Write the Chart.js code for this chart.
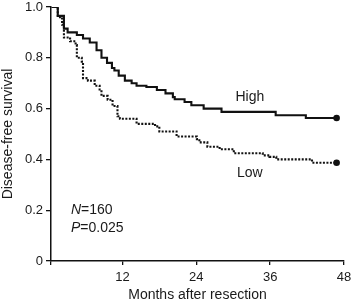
<!DOCTYPE html>
<html>
<head>
<meta charset="utf-8">
<script src="https://cdn.jsdelivr.net/npm/chart.js@4.4.1/dist/chart.umd.min.js"></script>
<style>
html,body{margin:0;padding:0;background:#fff;}
#wrap{width:353px;height:304px;}
</style>
</head>
<body>
<div id="wrap"><canvas id="c" width="353" height="304"></canvas></div>
<script>
// Months after resection and survival after each step
const highMonths = [0.5, 1.5, 2.5, 3.1, 4.6, 5.6, 6.7, 7.8, 8.6, 9.5, 10.3, 10.7, 11.4, 12.4, 13.5, 14.3, 15.9, 17.6, 19.0, 20.2, 20.5, 22.1, 23.2, 25.2, 28.1, 36.9, 41.8, 46.8];
const highSurvival = [1.0, 0.965, 0.915, 0.90, 0.89, 0.876, 0.86, 0.83, 0.80, 0.78, 0.76, 0.75, 0.73, 0.71, 0.70, 0.69, 0.685, 0.673, 0.66, 0.645, 0.637, 0.626, 0.613, 0.60, 0.587, 0.574, 0.563, 0.563];
const lowMonths = [0.5, 1.5, 2.2, 2.5, 3.5, 4.4, 4.6, 5.4, 5.6, 6.4, 7.5, 8.3, 8.6, 9.6, 10.4, 11.2, 11.6, 14.3, 17.3, 18.0, 20.8, 24.1, 24.5, 25.8, 27.8, 30.1, 34.8, 35.9, 37.0, 42.8, 46.8];
const lowSurvival = [1.0, 0.96, 0.93, 0.88, 0.865, 0.85, 0.80, 0.785, 0.72, 0.71, 0.69, 0.675, 0.65, 0.635, 0.61, 0.57, 0.56, 0.54, 0.53, 0.51, 0.49, 0.48, 0.467, 0.45, 0.44, 0.424, 0.416, 0.41, 0.40, 0.387, 0.387];
const xTicks = [12, 24, 36, 48];
const yTicks = [0, 0.2, 0.4, 0.6, 0.8, 1.0];

const toPts = (xs, ys) => xs.map((x, i) => ({x: x, y: ys[i]}));
const lastOnly = (n, r) => (ctx) => ctx.dataIndex === n - 1 ? r : 0;

const FONT = "'Liberation Sans', Arial, Helvetica, sans-serif";
const INK = '#1a1a1a';

const textPlugin = {
  id: 'texts',
  afterDatasetsDraw(chart) {
    const {ctx, scales: {x, y}} = chart;
    ctx.save();
    ctx.fillStyle = INK;
    ctx.textBaseline = 'middle';
    ctx.font = '14px ' + FONT;
    ctx.textAlign = 'center';
    ctx.fillText('High', x.getPixelForValue(32.7), y.getPixelForValue(0.646));
    ctx.fillText('Low', x.getPixelForValue(32.7), y.getPixelForValue(0.346));
    ctx.textAlign = 'left';
    const drawMixed = (it, rest, mx, my) => {
      let px = x.getPixelForValue(mx), py = y.getPixelForValue(my);
      ctx.font = 'italic 14px ' + FONT;
      ctx.fillText(it, px, py);
      px += ctx.measureText(it).width;
      ctx.font = '14px ' + FONT;
      ctx.fillText(rest, px, py);
    };
    drawMixed('N', '=160', 3.65, 0.20);
    drawMixed('P', '=0.025', 3.65, 0.13);
    ctx.restore();
  }
};

new Chart(document.getElementById('c'), {
  type: 'line',
  data: {
    datasets: [
      {
        label: 'High',
        data: toPts(highMonths, highSurvival),
        stepped: 'before',
        borderColor: '#111',
        borderWidth: 2.1,
        pointRadius: lastOnly(highMonths.length, 3.3),
        pointBackgroundColor: '#111',
        pointBorderWidth: 0,
        fill: false
      },
      {
        label: 'Low',
        data: toPts(lowMonths, lowSurvival),
        stepped: 'before',
        borderColor: '#111',
        borderWidth: 2.1,
        borderDash: [2, 1.5],
        pointRadius: lastOnly(lowMonths.length, 3.3),
        pointBackgroundColor: '#111',
        pointBorderWidth: 0,
        fill: false
      }
    ]
  },
  options: {
    responsive: false,
    animation: false,
    devicePixelRatio: 1,
    layout: {padding: {left: 0, right: 9, top: 7, bottom: 0}},
    plugins: {legend: {display: false}, tooltip: {enabled: false}},
    scales: {
      x: {
        type: 'linear',
        min: 0.4, max: 48,
        afterBuildTicks: (s) => { s.ticks = [{value: s.min}].concat(xTicks.map(v => ({value: v}))); },
        afterFit: (s) => { s.height = 43; s.paddingLeft = 0; s.paddingRight = 0; },
        ticks: {
          callback: (v) => xTicks.includes(v) ? String(v) : '',
          color: INK, font: {family: FONT, size: 13}, padding: 5, maxRotation: 0, autoSkip: false
        },
        grid: {drawOnChartArea: false, drawTicks: true, tickLength: 4, color: '#111', lineWidth: 1.3},
        border: {display: true, color: '#111', width: 1.5},
        title: {display: true, text: 'Months after resection', color: INK, font: {family: FONT, size: 14}, padding: {top: 0, bottom: 0}}
      },
      y: {
        type: 'linear',
        min: 0, max: 1.0,
        afterBuildTicks: (s) => { s.ticks = yTicks.map(v => ({value: v})); },
        afterFit: (s) => { s.width = 51; s.paddingTop = 0; s.paddingBottom = 0; },
        ticks: {
          callback: (v) => v === 0 ? '0' : v.toFixed(1),
          color: INK, font: {family: FONT, size: 13}, padding: 3
        },
        grid: {drawOnChartArea: false, drawTicks: true, tickLength: 5, color: '#111', lineWidth: 1.3},
        border: {display: true, color: '#111', width: 1.5},
        title: {display: true, text: 'Disease-free survival', color: INK, font: {family: FONT, size: 14}, padding: {top: 0, bottom: 2}}
      }
    }
  },
  plugins: [textPlugin]
});
</script>
</body>
</html>
